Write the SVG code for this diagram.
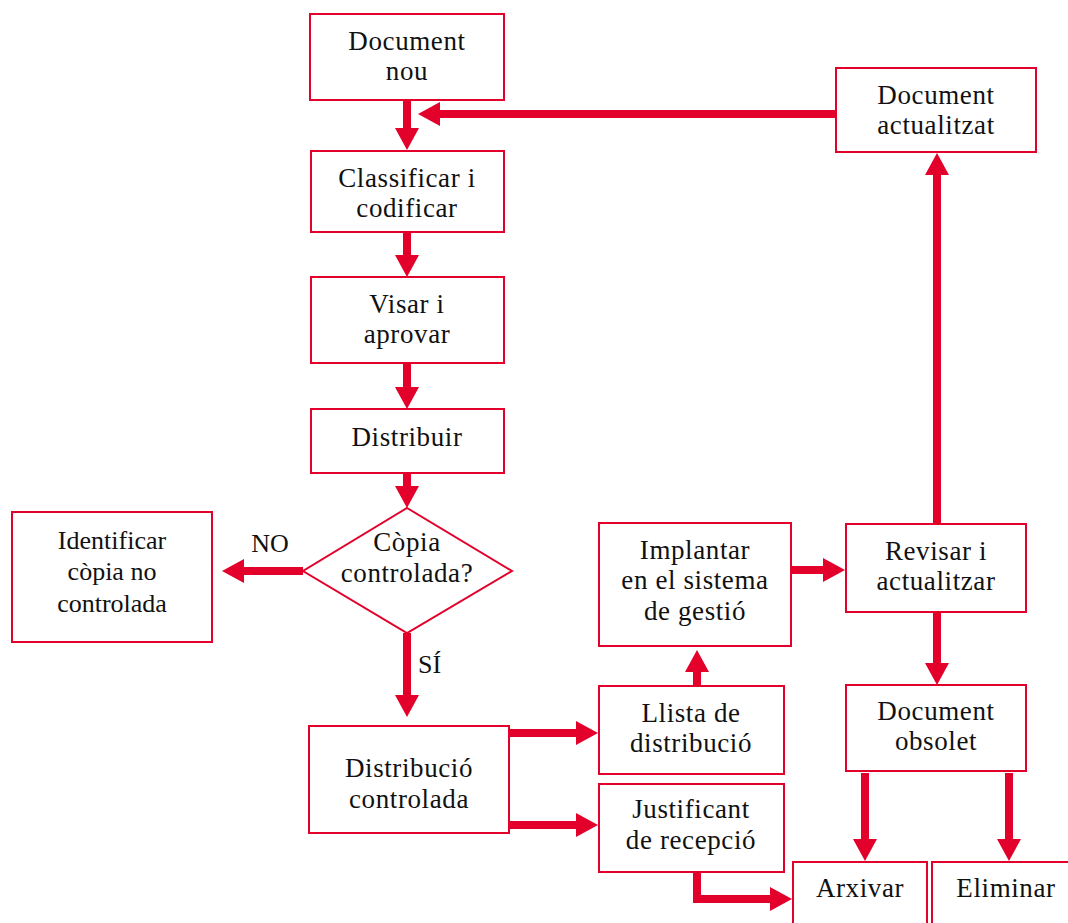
<svg xmlns="http://www.w3.org/2000/svg" width="1068" height="923" viewBox="0 0 1068 923">
<style>
.box{fill:#fff;stroke:#E3002B;stroke-width:2}
.t{font-family:"Liberation Serif",serif;font-size:27px;letter-spacing:0.6px;fill:#111;text-anchor:middle}
.tm{font-family:"Liberation Serif",serif;font-size:26px;fill:#111;text-anchor:middle}
.c{fill:none;stroke:#E3002B;stroke-width:8;stroke-linejoin:miter}
</style>
<defs>
<marker id="ah" viewBox="0 0 11 12" refX="1" refY="6" markerWidth="2.75" markerHeight="3" orient="auto" markerUnits="strokeWidth">
<path d="M0,0 L11,6 L0,12 z" fill="#E3002B"/>
</marker>
</defs>
<rect width="1068" height="923" fill="#fff"/>
<g id="connectors">
<line class="c" x1="407" y1="100" x2="407" y2="130" marker-end="url(#ah)"/>
<line class="c" x1="836" y1="114" x2="438" y2="114" marker-end="url(#ah)"/>
<line class="c" x1="407" y1="232" x2="407" y2="257" marker-end="url(#ah)"/>
<line class="c" x1="407" y1="363" x2="407" y2="389" marker-end="url(#ah)"/>
<line class="c" x1="407" y1="473" x2="407" y2="488" marker-end="url(#ah)"/>
<line class="c" x1="303" y1="571" x2="242" y2="571" marker-end="url(#ah)"/>
<line class="c" x1="407" y1="633" x2="407" y2="697" marker-end="url(#ah)"/>
<line class="c" x1="510" y1="733" x2="578" y2="733" marker-end="url(#ah)"/>
<line class="c" x1="510" y1="825" x2="578" y2="825" marker-end="url(#ah)"/>
<line class="c" x1="697" y1="686" x2="697" y2="670" marker-end="url(#ah)"/>
<line class="c" x1="791" y1="570" x2="825" y2="570" marker-end="url(#ah)"/>
<line class="c" x1="937" y1="524" x2="937" y2="173" marker-end="url(#ah)"/>
<line class="c" x1="937" y1="612" x2="937" y2="665" marker-end="url(#ah)"/>
<line class="c" x1="865" y1="773" x2="865" y2="841" marker-end="url(#ah)"/>
<line class="c" x1="1009" y1="773" x2="1009" y2="841" marker-end="url(#ah)"/>
<path class="c" d="M697,872 V899 H772" marker-end="url(#ah)"/>
<text class="tm" x="270" y="552">NO</text>
<text class="tm" x="418" y="673" style="text-anchor:start">SÍ</text>
</g>
<g id="n-doc-nou"><rect class="box" x="310" y="14" width="194" height="86"/><text class="t" x="407" y="50">Document</text><text class="t" x="407" y="80">nou</text></g>
<g id="n-classificar"><rect class="box" x="311" y="151" width="193" height="81"/><text class="t" x="407" y="187">Classificar i</text><text class="t" x="407" y="217">codificar</text></g>
<g id="n-visar"><rect class="box" x="311" y="277" width="193" height="86"/><text class="t" x="407" y="313">Visar i</text><text class="t" x="407" y="343">aprovar</text></g>
<g id="n-distribuir"><rect class="box" x="311" y="409" width="193" height="64"/><text class="t" x="407" y="446">Distribuir</text></g>
<g id="n-copia"><polygon class="box" points="407,508 512,571 407,633 303,571"/><text class="t" x="407" y="551">Còpia</text><text class="t" x="407" y="582">controlada?</text></g>
<g id="n-identificar"><rect class="box" x="12" y="512" width="200" height="130"/><text class="tm" x="112" y="549">Identificar</text><text class="tm" x="112" y="580">còpia no</text><text class="tm" x="112" y="612">controlada</text></g>
<g id="n-distribucio"><rect class="box" x="309" y="726" width="200" height="107"/><text class="t" x="409" y="777">Distribució</text><text class="t" x="409" y="808">controlada</text></g>
<g id="n-llista"><rect class="box" x="599" y="686" width="185" height="88"/><text class="t" x="691" y="722">Llista de</text><text class="t" x="691" y="752">distribució</text></g>
<g id="n-justificant"><rect class="box" x="599" y="784" width="185" height="88"/><text class="t" x="691" y="818">Justificant</text><text class="t" x="691" y="849">de recepció</text></g>
<g id="n-implantar"><rect class="box" x="599" y="523" width="192" height="123"/><text class="t" x="695" y="559">Implantar</text><text class="t" x="695" y="589">en el sistema</text><text class="t" x="695" y="620">de gestió</text></g>
<g id="n-revisar"><rect class="box" x="846" y="524" width="180" height="88"/><text class="t" x="936" y="560">Revisar i</text><text class="t" x="936" y="590">actualitzar</text></g>
<g id="n-doc-actualitzat"><rect class="box" x="836" y="68" width="200" height="84"/><text class="t" x="936" y="104">Document</text><text class="t" x="936" y="134">actualitzat</text></g>
<g id="n-doc-obsolet"><rect class="box" x="846" y="685" width="180" height="86"/><text class="t" x="936" y="720">Document</text><text class="t" x="936" y="750">obsolet</text></g>
<g id="n-arxivar"><rect class="box" x="793" y="862" width="134" height="70"/><text class="t" x="860" y="897">Arxivar</text></g>
<g id="n-eliminar"><rect class="box" x="932" y="862" width="140" height="70"/><text class="t" x="1006" y="897">Eliminar</text></g>
</svg>
